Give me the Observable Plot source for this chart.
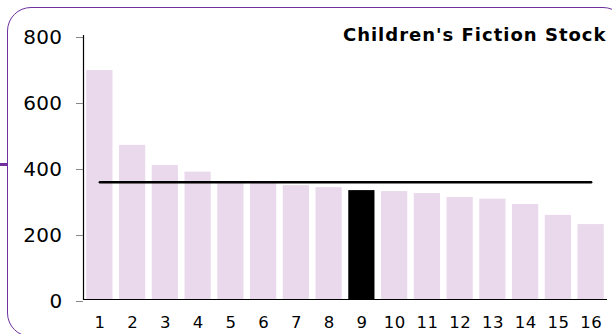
<!DOCTYPE html>
<html>
<head>
<meta charset="utf-8">
<script src="https://cdn.jsdelivr.net/npm/d3@7"></script>
<script src="https://cdn.jsdelivr.net/npm/@observablehq/plot@0.6"></script>
<style>
  html, body { margin: 0; padding: 0; background: #fff; }
  #wrap { position: relative; width: 612px; height: 334px; overflow: hidden; font-family: Verdana, "DejaVu Sans", sans-serif; }
  #wrap svg { position: absolute; left: 0; top: 0; }
  #wrap svg g[aria-label="text"] text { letter-spacing: 1px; }
  #wrap svg g[aria-label="x-axis tick label"] text { letter-spacing: 0.3px; }
  #wrap svg g[aria-label="y-axis tick label"] text { letter-spacing: 0.4px; }
  #border { position: absolute; left: 6.5px; top: 6.5px; width: 620px; height: 330px; border: 1.5px solid #7030a0; border-radius: 24px; box-sizing: border-box; pointer-events: none; }
  #notch { position: absolute; left: 0; top: 163px; width: 7px; height: 3px; background: #7030a0; }
</style>
</head>
<body>
<div id="wrap">
  <div id="border"></div>
  <div id="notch"></div>
</div>
<script>
const title = "Children's Fiction Stock";
const branches = ["1","2","3","4","5","6","7","8","9","10","11","12","13","14","15","16"];
const stock = [694, 467, 406, 386, 356, 355, 345, 339, 330, 327, 321, 309, 304, 288, 255, 227];
const average = 355;
const highlight = "9";
const yTicks = [0, 200, 400, 600, 800];

const data = branches.map((b, i) => ({branch: b, value: stock[i]}));
const pink = "#ead9ec";

const chart = Plot.plot({
  width: 612,
  height: 334,
  marginLeft: 83,
  marginRight: 5,
  marginTop: 35,
  marginBottom: 35,
  style: {fontFamily: "Verdana, 'DejaVu Sans', sans-serif", background: "transparent", color: "black"},
  x: {domain: branches, paddingInner: 0.2, paddingOuter: 0.1, round: false},
  y: {domain: [0, 800]},
  marks: [
    Plot.barY(data, {x: "branch", y: "value", fill: d => d.branch === highlight ? "black" : pink}),
    Plot.lineY(branches, {x: d => d, y: () => average, stroke: "black", strokeWidth: 2.5}),
    Plot.ruleY([0], {stroke: "black", strokeWidth: 1.2}),
    Plot.frame({anchor: "left", stroke: "black", strokeWidth: 1.2}),
    Plot.axisY({ticks: yTicks, tickSize: 7, tickPadding: 14, fontSize: 20, stroke: "#888", dy: 2, label: null, fill: "black"}),
    Plot.axisX({tickSize: 0, tickPadding: 17, fontSize: 16.5, label: null}),
    Plot.text([title], {frameAnchor: "top-right", text: d => d, lineAnchor: "middle", dx: -1, fontSize: 18, fontWeight: "bold", fill: "black"})
  ]
});
document.getElementById("wrap").prepend(chart);
</script>
</body>
</html>
